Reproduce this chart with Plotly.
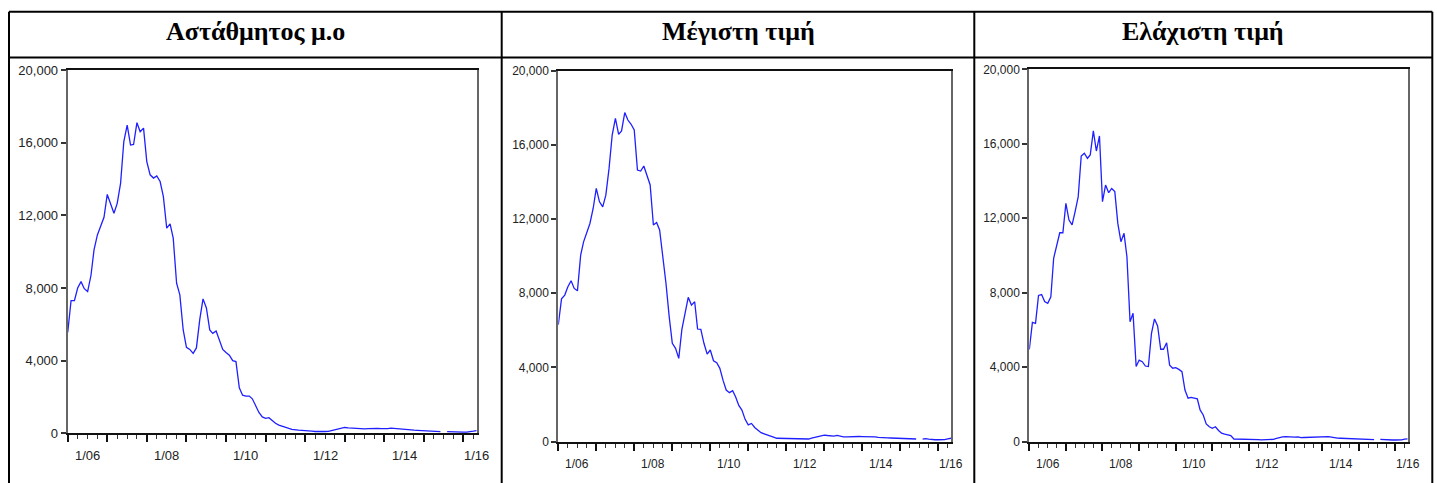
import plotly.graph_objects as go
import pandas as pd

W, H = 1437, 483

# Monthly observations, July 2005 to November 2015
months = pd.date_range("2005-07-01", periods=125, freq="MS")

weighted_avg = [
    5550, 7300, 7300, 8000, 8350, 7960, 7800, 8700, 10100, 10920,
    11400, 11890, 13150, 12600, 12110, 12660, 13760, 16060, 16970, 15870,
    15900, 17100, 16600, 16800, 14960, 14230, 14050, 14170, 13860, 13030,
    11290, 11530, 10740, 8260, 7620, 5690, 4730, 4620, 4400, 4700,
    6270, 7400, 6900, 5690, 5500, 5630, 5140, 4620, 4450, 4300,
    4000, 3950, 2500, 2100, 2050, 2050, 1900, 1500, 1150, 900,
    820, 860, 700, 550, 450, 380, 320, 270, 220, 180,
    170, 160, 160, 140, 120, 100, 90, 90, 100, 110,
    150, 200, 270, 300, 320, 300, 280, 280, 270, 250,
    240, 260, 270, 270, 270, 260, 250, 260, 280, 260,
    240, 220, 200, 190, 180, 170, 160, 150, 140, 130,
    120, 110, 100, 90, None, 90, 80, 70, 70, 60,
    60, 70, 80, 120, 150,
]

max_price = [
    6300, 7700, 7900, 8350, 8670, 8260, 8130, 10050, 10770, 11310,
    11760, 12570, 13650, 12930, 12660, 13290, 14730, 16530, 17430, 16570,
    16750, 17740, 17340, 17110, 16800, 14640, 14590, 14860, 14380, 13840,
    11680, 11810, 11410, 10070, 8540, 6740, 5300, 5030, 4490, 6050,
    6880, 7780, 7360, 7540, 6070, 6050, 5300, 4720, 4940, 4360,
    4250, 3950, 3300, 2780, 2640, 2745, 2420, 1950, 1700, 1200,
    900, 980, 760, 600, 480, 420, 370, 310, 240, 180,
    175, 175, 175, 170, 150, 130, 120, 125, 130, 140,
    190, 240, 290, 330, 350, 330, 310, 300, 330, 290,
    250, 260, 270, 280, 280, 275, 270, 275, 280, 285,
    260, 230, 210, 205, 200, 195, 190, 185, 180, 170,
    160, 150, 145, 140, None, 130, 160, 130, 105, 100,
    100, 100, 110, 150, 180,
]

min_price = [
    4950, 6400, 6350, 7850, 7900, 7520, 7430, 7780, 9850, 10560,
    11220, 11220, 12800, 11900, 11640, 12350, 13160, 15340, 15490, 15220,
    15400, 16690, 15610, 16420, 12890, 13780, 13370, 13600, 13430, 11720,
    10740, 11190, 9930, 6440, 6890, 4030, 4380, 4290, 4060, 4030,
    5820, 6590, 6210, 4960, 4960, 5310, 4110, 3940, 3970, 3880,
    3760, 2770, 2330, 2380, 2360, 2300, 1700, 1430, 950, 800,
    710, 800, 600, 450, 400, 350, 320, 140, 140, 140,
    140, 140, 140, 140, 140, 110, 90, 90, 100, 110,
    120, 170, 220, 250, 265, 250, 230, 240, 250, 210,
    220, 230, 240, 245, 250, 255, 260, 265, 265, 240,
    200, 190, 180, 175, 170, 165, 157, 150, 140, 130,
    120, 115, 110, 103, None, 115, 100, 85, 85, 85,
    85, 85, 90, 130, 150,
]

titles = ["Αστάθμητος μ.ο", "Μέγιστη τιμή", "Ελάχιστη τιμή"]
series = [weighted_avg, max_price, min_price]

year_ticks = ["2006-01-01", "2008-01-01", "2010-01-01",
              "2012-01-01", "2014-01-01", "2016-01-01"]
year_labels = ["1/06", "1/08", "1/10", "1/12", "1/14", "1/16"]
y_ticks = [0, 4000, 8000, 12000, 16000, 20000]

# Plot boxes in pixels: left, right, top, bottom
boxes = [
    (67.7, 476.7, 70.0, 433.3),
    (558.3, 951.0, 70.7, 441.6),
    (1029.3, 1407.7, 69.3, 441.6),
]
tick_font_sizes = [13, 12, 12]
# Table grid in pixels
table_left, table_right, table_top, header_bottom = 9.0, 1432.3, 11.7, 57.5
col_dividers = [501.7, 974.3]
header_centers = [255.3, 738.0, 1203.3]


def px_x(v):
    return v / W


def px_y(v):
    return 1 - v / H


fig = go.Figure()
layout = dict(
    width=W, height=H,
    margin=dict(l=0, r=0, t=0, b=0, pad=0, autoexpand=False),
    paper_bgcolor="white", plot_bgcolor="white",
    showlegend=False,
    font=dict(family="Liberation Sans, Arial, sans-serif", size=12, color="#222"),
)
annotations = []
shapes = []

x_start = months[0]
x_end = months[-1]

for k, (vals, box) in enumerate(zip(series, boxes)):
    n = k + 1
    xa = "x" if n == 1 else f"x{n}"
    ya = "y" if n == 1 else f"y{n}"
    fs = tick_font_sizes[k]
    fig.add_trace(go.Scatter(
        x=months, y=vals, mode="lines",
        line=dict(color="#1f1fff", width=1.3),
        connectgaps=False, xaxis=xa, yaxis=ya,
    ))
    left, right, top, bottom = box
    layout[f"xaxis{'' if n == 1 else n}"] = dict(
        domain=[px_x(left), px_x(right)],
        anchor=ya, type="date",
        range=[x_start, x_end],
        automargin=False,
        showgrid=False, zeroline=False,
        showline=True, linecolor="#111", linewidth=2, mirror=True,
        ticks="outside", ticklen=7, tickwidth=1.5, tickcolor="#111",
        tick0="2005-07-01", dtick="M12",
        showticklabels=False,
        minor=dict(ticks="outside", ticklen=4, tickwidth=1, tickcolor="#333",
                   tick0="2005-07-01", dtick="M3"),
    )
    layout[f"yaxis{'' if n == 1 else n}"] = dict(
        domain=[px_y(bottom), px_y(top)],
        anchor=xa, range=[0, 20000],
        automargin=False,
        tickvals=y_ticks, tickformat=",d",
        showgrid=False, zeroline=False,
        showline=True, linecolor="#666", linewidth=2, mirror=True,
        ticks="outside", ticklen=5, tickwidth=1.5, tickcolor="#333",
        tickfont=dict(size=fs, color="#222"),
    )
    # Year labels under the axis, kept inside the plotted span
    for t, lab in zip(year_ticks, year_labels):
        xpos = min(pd.Timestamp(t), x_end)
        annotations.append(dict(
            x=xpos, y=0, xref=xa, yref=f"{ya} domain",
            text=lab, showarrow=False, yanchor="top", yshift=-13,
            font=dict(size=fs, color="#222"),
        ))
    # Header title
    annotations.append(dict(
        x=px_x(header_centers[k]), y=px_y(32.0), xref="paper", yref="paper",
        text=f"<b>{titles[k]}</b>", showarrow=False,
        xanchor="center", yanchor="middle",
        font=dict(family="Liberation Serif, Times New Roman, serif", size=26, color="black"),
    ))

# Table borders
line_style = dict(color="black", width=2)
shapes.append(dict(type="line", xref="paper", yref="paper",
                   x0=px_x(table_left), x1=px_x(table_right),
                   y0=px_y(table_top), y1=px_y(table_top), line=line_style))
shapes.append(dict(type="line", xref="paper", yref="paper",
                   x0=px_x(table_left), x1=px_x(table_right),
                   y0=px_y(header_bottom), y1=px_y(header_bottom), line=line_style))
for xv in [table_left] + col_dividers + [table_right]:
    shapes.append(dict(type="line", xref="paper", yref="paper",
                       x0=px_x(xv), x1=px_x(xv),
                       y0=px_y(table_top), y1=0, line=line_style))

layout["annotations"] = annotations
layout["shapes"] = shapes
fig.update_layout(**layout)
fig.write_html("out.html")
